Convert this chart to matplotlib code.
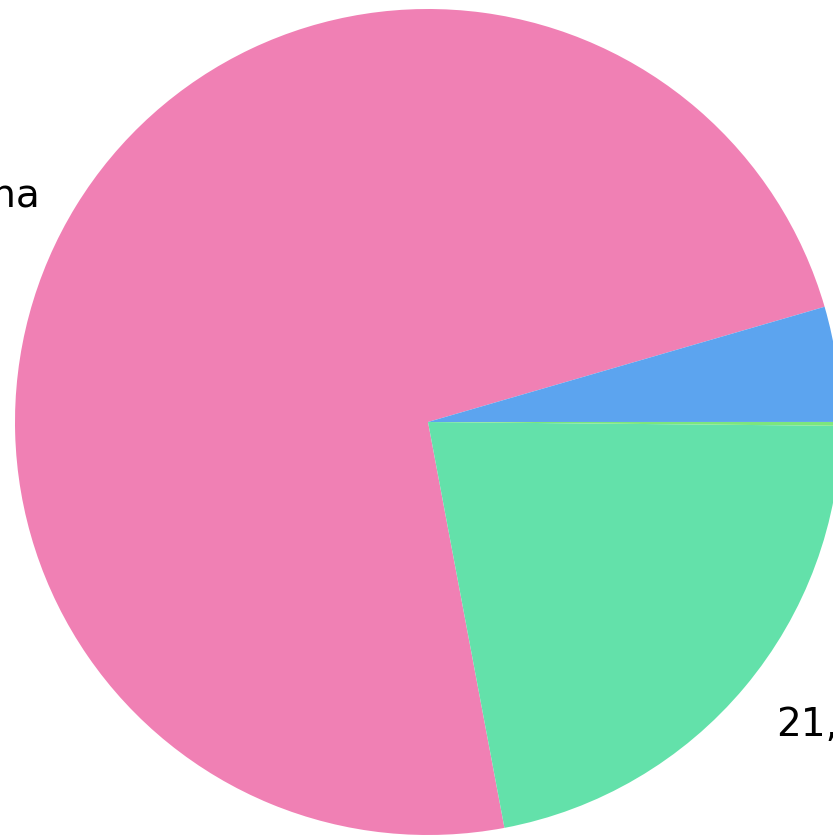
import matplotlib
matplotlib.use("Agg")
import matplotlib.pyplot as plt

# slice data
labels = ["China", "21,9%", "", ""]
values = [73.5, 21.9, 0.15, 4.5]
colors = ["#F080B4", "#63E1AA", "#7DE67D", "#5CA4EF"]

fig = plt.figure(figsize=(8.33, 8.37), dpi=100)
ax = fig.add_axes([0, 0, 1, 1])

wedges, texts = ax.pie(values, labels=labels, colors=colors, startangle=16.2,
                       labeldistance=1.1, radius=1.0,
                       textprops={"fontsize": 28, "color": "black"})

# place the pie so it runs off the right edge like the reference
r_px = 413.0
cx, cy = 428.0, 423.0
ax.set_aspect("auto")
ax.set_xlim(-cx / r_px, (833 - cx) / r_px)
ax.set_ylim(-(837 - cy) / r_px, cy / r_px)
ax.axis("off")

# labels sit a little lower in the reference
for t in texts:
    x, y = t.get_position()
    t.set_position((x, y - 10 / r_px))

fig.savefig("out.png", dpi=100)
